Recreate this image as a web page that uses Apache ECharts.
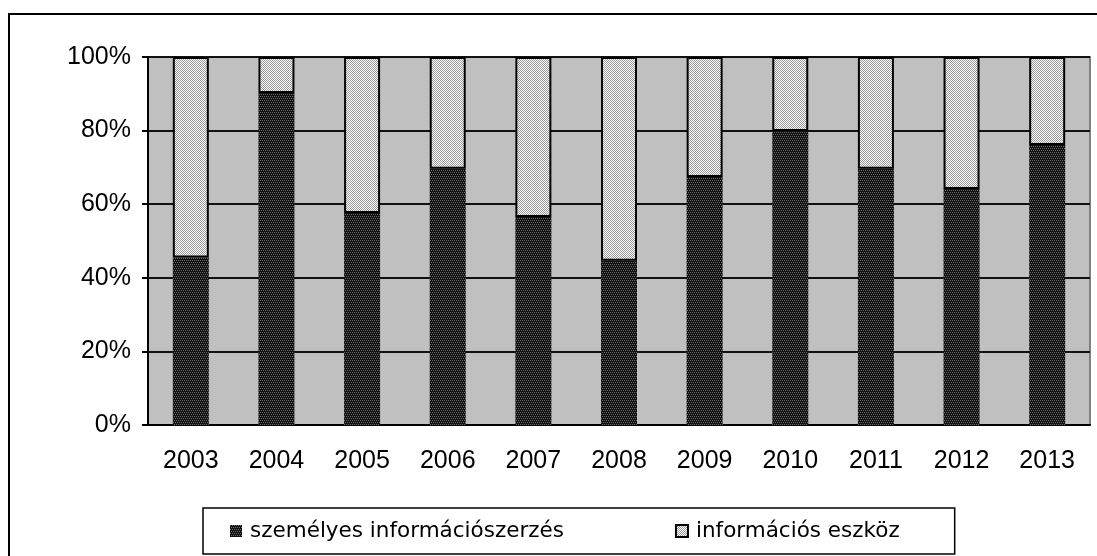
<!DOCTYPE html>
<html>
<head>
<meta charset="utf-8">
<script src="https://cdn.jsdelivr.net/npm/echarts@6/dist/echarts.min.js"></script>
<style>
  html, body { margin: 0; padding: 0; background: #fff; }
  #chart { width: 1097px; height: 556px; }
</style>
</head>
<body>
<div id="chart"></div>
<script>
// évek
const years = ['2003', '2004', '2005', '2006', '2007', '2008', '2009', '2010', '2011', '2012', '2013'];
// személyes információszerzés aránya (%)
const szemelyes = [45.5, 90.2, 57.6, 69.6, 56.5, 44.6, 67.4, 79.9, 69.6, 64.1, 76.1];
// információs eszköz aránya (%)
const eszkoz = [54.5, 9.8, 42.4, 30.4, 43.5, 55.4, 32.6, 20.1, 30.4, 35.9, 23.9];
const seriesNames = ['személyes információszerzés', 'információs eszköz'];

// mintázatok a kitöltéshez
function makePattern(draw) {
  const c = document.createElement('canvas');
  c.width = 4; c.height = 4;
  draw(c.getContext('2d'));
  return c;
}
const darkPattern = makePattern(ctx => {
  ctx.fillStyle = '#111';
  ctx.fillRect(0, 0, 4, 4);
  ctx.fillStyle = '#6a6a6a';
  ctx.fillRect(0, 0, 1, 1);
  ctx.fillRect(2, 0, 1, 1);
  ctx.fillRect(1, 2, 1, 1);
  ctx.fillRect(3, 2, 1, 1);
});
const lightPattern = makePattern(ctx => {
  ctx.fillStyle = '#fff';
  ctx.fillRect(0, 0, 4, 4);
  ctx.fillStyle = '#9a9a9a';
  for (let y = 0; y < 4; y++) {
    for (let x = 0; x < 4; x++) {
      if ((x + y) % 2 === 0) ctx.fillRect(x, y, 1, 1);
    }
  }
});

const chart = echarts.init(document.getElementById('chart'));
const font = "'Liberation Sans', Arial, sans-serif";

chart.setOption({
  animation: false,
  backgroundColor: '#fff',
  graphic: [{
    type: 'rect',
    shape: { x: 9, y: 14, width: 1100, height: 600 },
    style: { fill: 'none', stroke: '#000', lineWidth: 2 },
    z: 100
  }],
  grid: {
    left: 148,
    right: 7,
    top: 57,
    bottom: 131,
    show: true,
    backgroundColor: '#c0c0c0',
    borderColor: '#808080',
    borderWidth: 2
  },
  legend: {
    left: 203,
    top: 508,
    padding: [12, 55, 12, 27],
    itemGap: 111,
    itemWidth: 12,
    itemHeight: 12,
    icon: 'rect',
    borderColor: '#000',
    borderWidth: 1.5,
    textStyle: { fontFamily: "'DejaVu Sans', Verdana, sans-serif", fontSize: 21.5, color: '#000', padding: [0, 0, 0, 3] },
    data: seriesNames
  },
  xAxis: {
    type: 'category',
    data: years,
    axisLine: { lineStyle: { color: '#000', width: 2 } },
    axisTick: { length: 8, lineStyle: { color: '#000', width: 2 } },
    axisLabel: { color: '#000', fontFamily: font, fontSize: 25, margin: 24 }
  },
  yAxis: {
    type: 'value',
    min: 0,
    max: 100,
    interval: 20,
    axisLine: { show: true, lineStyle: { color: '#000', width: 2 } },
    axisTick: { show: true, length: 6, lineStyle: { color: '#000', width: 2 } },
    axisLabel: { color: '#000', fontFamily: font, fontSize: 25, margin: 17, formatter: '{value}%' },
    splitLine: { lineStyle: { color: '#111', width: 2 } }
  },
  series: [
    {
      name: seriesNames[0],
      type: 'bar',
      stack: 'total',
      barWidth: 36,
      data: szemelyes,
      itemStyle: { color: { image: darkPattern, repeat: 'repeat' }, borderColor: '#000', borderWidth: 0 }
    },
    {
      name: seriesNames[1],
      type: 'bar',
      stack: 'total',
      barWidth: 36,
      data: eszkoz,
      itemStyle: { color: { image: lightPattern, repeat: 'repeat' }, borderColor: '#000', borderWidth: 2 }
    }
  ]
});
</script>
</body>
</html>
